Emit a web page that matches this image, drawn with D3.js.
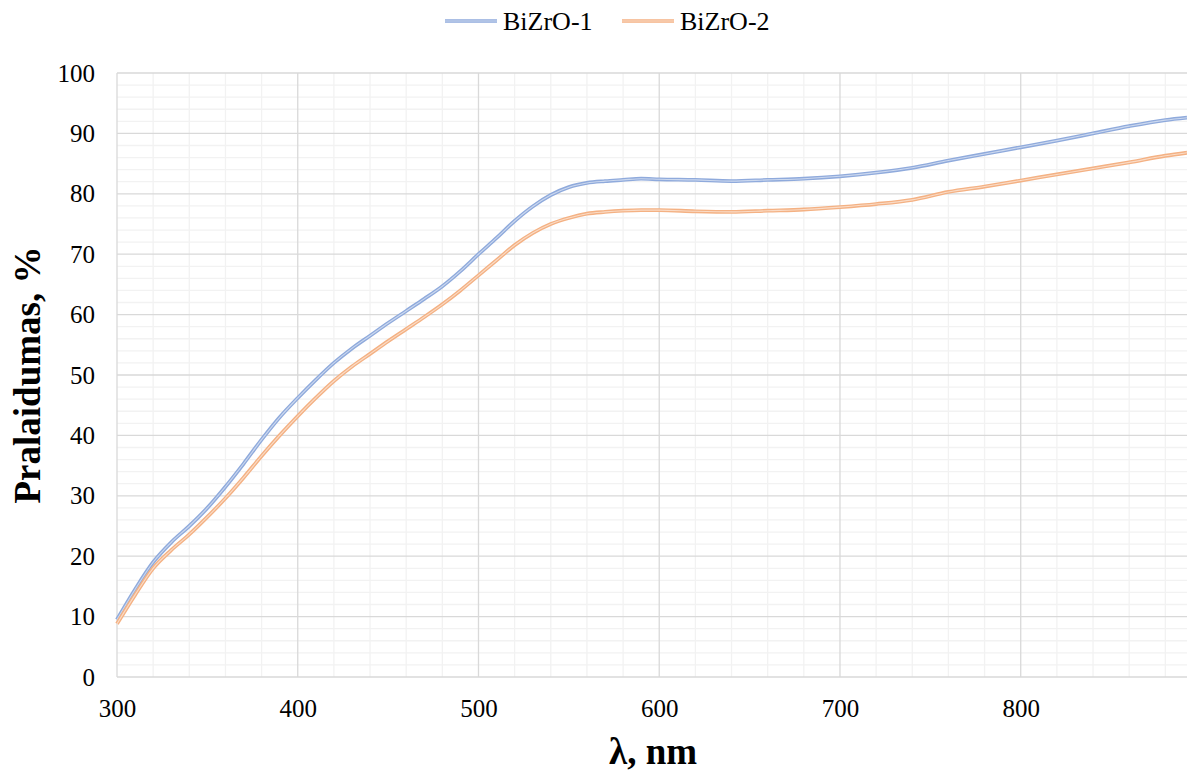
<!DOCTYPE html>
<html>
<head>
<meta charset="utf-8">
<script src="https://cdn.jsdelivr.net/npm/d3@7"></script>
<style>
  body { margin: 0; background: #fff; }
  text { font-family: "Liberation Serif", "Times New Roman", serif; fill: #000; }
</style>
</head>
<body>
<div class="main"></div>
<script>
// chart config
var W = 1187, H = 771;
var margin = {top: 73, right: 0, bottom: 94, left: 117};
var width = W - margin.left - margin.right;
var height = H - margin.top - margin.bottom;

// data
var seriesNames = ["BiZrO-1", "BiZrO-2"];
var seriesColors = ["#8faadc", "#f4b183"];
var wavelength = [300, 310, 320, 330, 340, 350, 360, 370, 380, 390,
	400, 410, 420, 430, 440, 450, 460, 470, 480, 490,
	500, 510, 520, 530, 540, 550, 560, 570, 580, 590,
	600, 620, 640, 660, 680, 700, 720, 740, 760, 780,
	800, 820, 840, 860, 880, 892];
var bizro1 = [9.5, 14.5, 19, 22.3, 25, 28, 31.5, 35.3, 39.3, 43,
	46.2, 49.2, 52, 54.4, 56.5, 58.6, 60.6, 62.6, 64.7, 67.2,
	70, 72.7, 75.5, 77.9, 79.8, 81.1, 81.8, 82.1, 82.3, 82.5,
	82.4, 82.3, 82.1, 82.3, 82.5, 82.9, 83.5, 84.3, 85.5, 86.6,
	87.7, 88.8, 90, 91.2, 92.2, 92.6];
var bizro2 = [8.8, 13.6, 18, 21, 23.6, 26.5, 29.6, 33, 36.6, 40,
	43.2, 46.2, 49, 51.4, 53.5, 55.6, 57.6, 59.6, 61.7, 64,
	66.5, 69, 71.5, 73.5, 75, 76, 76.7, 77, 77.2, 77.3,
	77.3, 77.1, 77, 77.2, 77.4, 77.8, 78.3, 79, 80.3, 81.2,
	82.2, 83.2, 84.2, 85.2, 86.3, 86.8];
var xTicks = [300, 400, 500, 600, 700, 800];
var yTicks = [0, 10, 20, 30, 40, 50, 60, 70, 80, 90, 100];

var svg = d3.select(".main")
	.append("svg")
	.attr("width", W)
	.attr("height", H);

var g = svg.append("g")
	.attr("transform", "translate(" + margin.left + "," + margin.top + ")");

var xScale = d3.scaleLinear().domain([300, 892]).range([0, width]);
var yScale = d3.scaleLinear().domain([0, 100]).range([height, 0]);

// minor gridlines
g.append("g")
	.selectAll("line")
	.data(d3.range(320, 892, 20).filter(function(d) { return d % 100 != 0; }))
	.enter().append("line")
	.attr("x1", function(d) { return xScale(d); })
	.attr("x2", function(d) { return xScale(d); })
	.attr("y1", 0).attr("y2", height)
	.style("stroke", "#f2f2f2").style("stroke-width", 1.3);
g.append("g")
	.selectAll("line")
	.data(d3.range(2, 100, 2).filter(function(d) { return d % 10 != 0; }))
	.enter().append("line")
	.attr("x1", 0).attr("x2", width)
	.attr("y1", function(d) { return yScale(d); })
	.attr("y2", function(d) { return yScale(d); })
	.style("stroke", "#f2f2f2").style("stroke-width", 1.3);

// major gridlines
g.append("g")
	.selectAll("line")
	.data(xTicks)
	.enter().append("line")
	.attr("x1", function(d) { return xScale(d); })
	.attr("x2", function(d) { return xScale(d); })
	.attr("y1", 0).attr("y2", height)
	.style("stroke", "#d9d9d9").style("stroke-width", 1.3);
g.append("g")
	.selectAll("line")
	.data(yTicks)
	.enter().append("line")
	.attr("x1", 0).attr("x2", width)
	.attr("y1", function(d) { return yScale(d); })
	.attr("y2", function(d) { return yScale(d); })
	.style("stroke", "#d9d9d9").style("stroke-width", 1.3);

// axes (labels only)
var xAxis = d3.axisBottom(xScale).tickValues(xTicks).tickSize(0).tickPadding(22);
var yAxis = d3.axisLeft(yScale).tickValues(yTicks).tickSize(0).tickPadding(22);
g.append("g")
	.attr("class", "x-axis")
	.attr("transform", "translate(0," + height + ")")
	.call(xAxis);
g.append("g")
	.attr("class", "y-axis")
	.call(yAxis);
g.selectAll(".domain").remove();
g.selectAll(".tick text")
	.style("font-family", "Liberation Serif")
	.style("font-size", "25px")
	.style("fill", "#000");

// lines (double compound look)
var lineFunc = d3.line()
	.x(function(d) { return xScale(d[0]); })
	.y(function(d) { return yScale(d[1]); })
	.curve(d3.curveMonotoneX);
var allSeries = [bizro1, bizro2].map(function(vals) {
	return wavelength.map(function(w, i) { return [w, vals[i]]; });
});
var lines = g.append("g").attr("class", "lines");
allSeries.forEach(function(s, i) {
	lines.append("path")
		.attr("d", lineFunc(s))
		.attr("fill", "none")
		.attr("stroke", seriesColors[i])
		.attr("stroke-width", 3.8);
	lines.append("path")
		.attr("d", lineFunc(s))
		.attr("fill", "none")
		.attr("stroke", "#fff")
		.attr("stroke-opacity", 0.55)
		.attr("stroke-width", 1.1);
});

// legend
var legendX = [445, 622];
seriesNames.forEach(function(name, i) {
	var lg = svg.append("g").attr("transform", "translate(" + legendX[i] + ",21)");
	lg.append("line").attr("x1", 0).attr("x2", 52).attr("y1", 0).attr("y2", 0)
		.style("stroke", seriesColors[i]).style("stroke-width", 3.4);
	lg.append("line").attr("x1", 0).attr("x2", 52).attr("y1", 0).attr("y2", 0)
		.style("stroke", "#fff").style("stroke-opacity", 0.6).style("stroke-width", 1.1);
	lg.append("text").attr("x", 58).attr("y", 9)
		.style("font-size", "26px")
		.text(name);
});

// axis titles
svg.append("text")
	.attr("x", 653)
	.attr("y", 764)
	.attr("text-anchor", "middle")
	.style("font-size", "37px")
	.style("font-weight", "bold")
	.text("λ, nm");
svg.append("text")
	.attr("transform", "translate(40," + (margin.top + height / 2) + ") rotate(-90)")
	.attr("text-anchor", "middle")
	.style("font-size", "37px")
	.style("font-weight", "bold")
	.text("Pralaidumas, %");
</script>
</body>
</html>
